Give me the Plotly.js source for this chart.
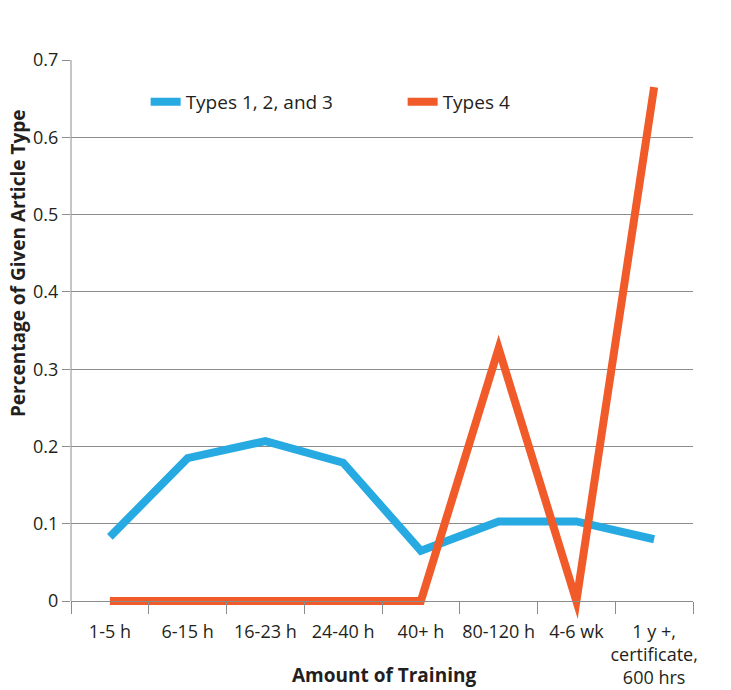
<!DOCTYPE html>
<html>
<head>
<meta charset="utf-8">
<script src="https://cdn.plot.ly/plotly-3.0.1.min.js"></script>
<style>
  html, body { margin: 0; padding: 0; background: #fff; }
  #plotly_graph { width: 731px; height: 690px; }
  /* sharp joins like the print original (default limit bevels the V) */
  #plotly_graph .scatterlayer path.js-line { stroke-miterlimit: 10; }
</style>
</head>
<body>
<div id="plotly_graph"></div>
<script>
//~~~~~~~~~~~~~~~~~~~~~~~~~~~~~~~~~~ DATA ~~~~~~~~~~~~~~~~~~~~~~~~~~~~~~~~~~~

const CATEGORIES = ['1-5 h', '6-15 h', '16-23 h', '24-40 h', '40+ h',
                    '80-120 h', '4-6 wk', '1 y +,<br>certificate,<br>600 hrs']
const TYPES_123 = [0.083, 0.185, 0.207, 0.179, 0.065, 0.103, 0.103, 0.080]
const TYPES_4 = [0, 0, 0, 0, 0, 0.327, 0, 0.665]
const Y_TICKS = [0, 0.1, 0.2, 0.3, 0.4, 0.5, 0.6, 0.7]

// y range goes a bit under zero so the thick lines at 0 are not clipped
const Y_MIN = -0.04
const Y_MAX = 0.7

const FONT = 'Open Sans, Noto Sans, sans-serif'
const TEXT = '#231f20'
const GRID = '#8c8c8c'

let graphDiv = document.getElementById('plotly_graph')

let trace1 = {
    name: 'Types 1, 2, and 3',
    type: 'scatter',
    mode: 'lines',
    x: CATEGORIES,
    y: TYPES_123,
    line: { color: '#27aae1', width: 8 }
}

let trace2 = {
    name: 'Types 4',
    type: 'scatter',
    mode: 'lines',
    x: CATEGORIES,
    y: TYPES_4,
    line: { color: '#f15a29', width: 8 }
}

let data = [trace1, trace2]

//~~~~~~~~~~~~~~~~~~~~~~~~~~~~~~~~~ LAYOUT ~~~~~~~~~~~~~~~~~~~~~~~~~~~~~~~~~

let layout = {
    width: 731,
    height: 690,
    margin: { t: 60, r: 38, b: 58, l: 71 },
    paper_bgcolor: '#fff',
    plot_bgcolor: '#fff',
    font: { family: FONT, size: 18, color: TEXT },
    showlegend: true,
    legend: {
        orientation: 'h',
        x: 0.12,
        y: 0.96,
        xanchor: 'left',
        yanchor: 'top',
        entrywidth: 212,
        entrywidthmode: 'pixels',
        bgcolor: 'rgba(0,0,0,0)',
        font: { family: FONT, size: 19, color: TEXT }
    },
    xaxis: {
        type: 'category',
        range: [-0.5, CATEGORIES.length - 0.5],
        anchor: 'free',
        position: (0 - Y_MIN) / (Y_MAX - Y_MIN),
        showgrid: false,
        zeroline: false,
        showline: true,
        linecolor: GRID,
        linewidth: 1,
        ticks: 'outside',
        tickson: 'boundaries',
        ticklen: 12,
        tickcolor: GRID,
        tickangle: 0,
        ticklabelstandoff: 14,
        tickfont: { family: FONT, size: 18, color: TEXT },
        fixedrange: true
    },
    yaxis: {
        range: [Y_MIN, Y_MAX],
        tickvals: Y_TICKS,
        ticktext: Y_TICKS.map(v => v === 0 ? '0' : v.toFixed(1)),
        showgrid: true,
        gridcolor: GRID,
        gridwidth: 1,
        zeroline: true,
        zerolinecolor: GRID,
        zerolinewidth: 1,
        showline: false,
        ticks: 'outside',
        ticklen: 8,
        tickcolor: GRID,
        tickfont: { family: FONT, size: 18, color: TEXT },
        fixedrange: true
    },
    shapes: [
        // left axis line, only from 0 up to the top
        {
            type: 'line', xref: 'paper', yref: 'y',
            x0: 0, x1: 0, y0: 0, y1: Y_MAX,
            line: { color: GRID, width: 1 }
        }
    ],
    annotations: [
        {
            text: '<b>Amount of Training</b>',
            xref: 'paper', yref: 'paper',
            x: (384 - 71) / 622, y: -0.0752,
            xanchor: 'center', yanchor: 'middle',
            showarrow: false,
            font: { family: FONT, size: 19, color: TEXT }
        },
        {
            text: '<b>Percentage of Given Article Type</b>',
            xref: 'paper', yref: 'paper',
            x: -0.0852, y: 0.645,
            xanchor: 'center', yanchor: 'middle',
            textangle: -90,
            showarrow: false,
            font: { family: FONT, size: 19, color: TEXT }
        }
    ]
}

const config = {
    displaylogo: false,
    displayModeBar: false,
    staticPlot: true
}

Plotly.newPlot(graphDiv, data, layout, config)
</script>
</body>
</html>
